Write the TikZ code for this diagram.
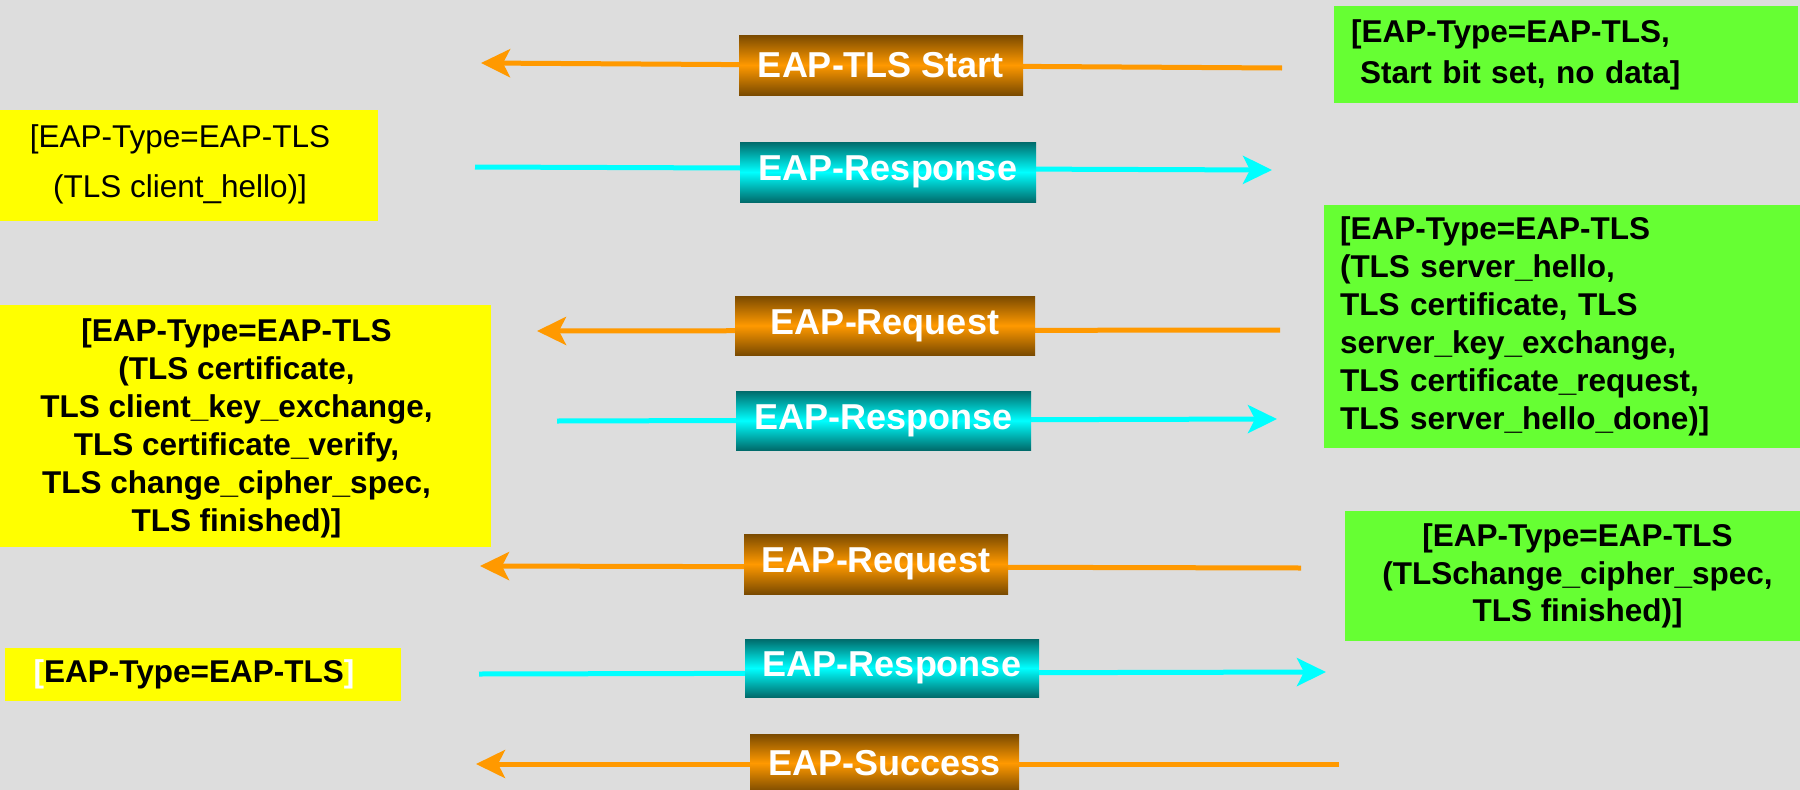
\documentclass[tikz,border=0pt]{standalone}
\usepackage{fontspec}
\setmainfont{Liberation Sans}
\usepackage{tikz}
\usetikzlibrary{positioning, arrows.meta}

\definecolor{bggray}{HTML}{DDDDDD}
\definecolor{eaporange}{HTML}{FF9900}
\definecolor{eapbrown}{HTML}{7A4A00}
\definecolor{eapcyan}{HTML}{00FFFF}
\definecolor{eapteal}{HTML}{006B6B}
\definecolor{boxyellow}{HTML}{FFFF00}
\definecolor{boxgreen}{HTML}{66FF33}

\begin{document}
\begin{tikzpicture}[x=1pt, y=-1pt,
    lbl/.style={inner sep=0pt, text=white, font=\fontsize{36}{40}\selectfont\bfseries},
    reqlbl/.style={lbl, top color=eapbrown, bottom color=eapbrown, middle color=eaporange},
    resplbl/.style={lbl, top color=eapteal, bottom color=eapteal, middle color=eapcyan},
    infotext/.style={inner sep=0pt, font=\fontsize{31.5}{38}\selectfont\bfseries},
    ybox/.style={inner sep=0pt, fill=boxyellow},
    gbox/.style={infotext, fill=boxgreen},
    toauth/.style={eapcyan, line width=5pt, -{Stealth[length=29pt, width=28pt, inset=7pt]}},
    topeer/.style={eaporange, line width=5pt, -{Stealth[length=29pt, width=28pt, inset=7pt]}}]

        % background
        \useasboundingbox (0,0) rectangle (1800,790);
        \fill[bggray] (0,0) rectangle (1800,790);

        % message lines
        \coordinate (s1) at (1282,68);  \coordinate (e1) at (481,63);
        \coordinate (s2) at (475,167);  \coordinate (e2) at (1272,170);
        \coordinate (s3) at (1280,330); \coordinate (e3) at (537,331);
        \coordinate (s4) at (557,421);  \coordinate (e4) at (1277,419);
        \coordinate (s5) at (1301,568); \coordinate (e5) at (480,566);
        \coordinate (s6) at (479,674);  \coordinate (e6) at (1326,672);
        \coordinate (s7) at (1339,764); \coordinate (e7) at (476,764);

        \draw[topeer] (s1) -- (e1);
        \draw[toauth] (s2) -- (e2);
        \draw[topeer] (s3) -- (e3);
        \draw[toauth] (s4) -- (e4);
        \draw[topeer] (s5) -- (e5);
        \draw[toauth] (s6) -- (e6);
        \draw[topeer] (s7) -- (e7);

        % message labels
        \node[reqlbl, minimum width=284, minimum height=60] (tlsstart) at (881,65) {EAP-TLS Start};
        \node[resplbl, minimum width=296, minimum height=60] (resp1) at (888,172) {EAP-Response};
        \node[reqlbl, minimum width=300, minimum height=59] (req1) at (885,325.5) {EAP-Request};
        \node[resplbl, minimum width=295, minimum height=59] (resp2) at (883.5,420.5) {EAP-Response};
        \node[reqlbl, minimum width=264, minimum height=60] (req2) at (876,564) {EAP-Request};
        \node[resplbl, minimum width=294, minimum height=58] (resp3) at (892,668) {EAP-Response};
        \node[reqlbl, minimum width=269, minimum height=58] (success) at (884.5,763) {EAP-Success};

        % peer side
        \node[ybox, minimum width=378, minimum height=111] (peer1) at (189,165.5) {};
        \node[infotext, align=center, font=\fontsize{31.5}{50}\selectfont\mdseries] (peer1txt) at ([xshift=-9pt, yshift=1pt]peer1.center)
          {[EAP-Type=EAP-TLS\\(TLS client\_hello)]};
        \node[ybox, minimum width=491, minimum height=242] (peer2) at (245.5,426) {};
        \node[infotext, align=center] (peer2txt) at ([xshift=-9pt, yshift=-2pt]peer2.center)
          {[EAP-Type=EAP-TLS\\(TLS certificate,\\TLS client\_key\_exchange,\\TLS certificate\_verify,\\TLS change\_cipher\_spec,\\TLS finished)]};
        \node[ybox, minimum width=396, minimum height=53] (peer3) at (203,674.5) {};
        \node[infotext] (peer3txt) at ([xshift=-9pt]peer3.center)
          {{\color{white}[}EAP-Type=EAP-TLS{\color{white}]}};

        % server side
        \node[gbox, inner xsep=17pt, text width=430, minimum height=97, align=left, font=\fontsize{31.5}{41}\selectfont\bfseries] (srv1) at (1566,54.5)
          {[EAP-Type=EAP-TLS,\\\hspace*{9pt}Start bit set, no data]};
        \node[gbox, inner xsep=16pt, text width=444, minimum height=243, align=left] (srv2) at (1562,326.5)
          {[EAP-Type=EAP-TLS\\(TLS server\_hello,\\TLS certificate, TLS\\server\_key\_exchange,\\TLS certificate\_request,\\TLS server\_hello\_done)]};
        \node[gbox, minimum width=455, minimum height=130] (srv3) at (1572.5,576) {};
        \node[infotext, align=center, font=\fontsize{31.5}{37.5}\selectfont\bfseries] (srv3txt) at ([xshift=5pt]srv3.center)
          {[EAP-Type=EAP-TLS\\(TLSchange\_cipher\_spec,\\TLS finished)]};
\end{tikzpicture}
\end{document}
